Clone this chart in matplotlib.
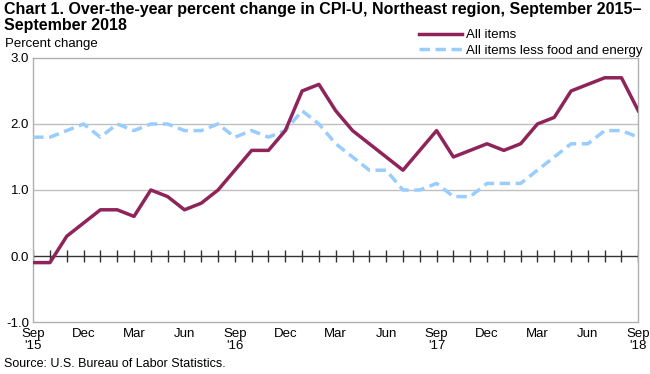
import matplotlib.pyplot as plt
import numpy as np

plt.rcParams['font.family'] = ['Liberation Sans', 'DejaVu Sans']

# monthly, Sep 2015 .. Sep 2018
all_items = [-0.1, -0.1, 0.3, 0.5, 0.7, 0.7, 0.6, 1.0, 0.9, 0.7, 0.8, 1.0,
             1.3, 1.6, 1.6, 1.9, 2.5, 2.6, 2.2, 1.9, 1.7, 1.5, 1.3, 1.6,
             1.9, 1.5, 1.6, 1.7, 1.6, 1.7, 2.0, 2.1, 2.5, 2.6, 2.7, 2.7, 2.2]
core = [1.8, 1.8, 1.9, 2.0, 1.8, 2.0, 1.9, 2.0, 2.0, 1.9, 1.9, 2.0,
        1.8, 1.9, 1.8, 1.9, 2.2, 2.0, 1.7, 1.5, 1.3, 1.3, 1.0, 1.0,
        1.1, 0.9, 0.9, 1.1, 1.1, 1.1, 1.3, 1.5, 1.7, 1.7, 1.9, 1.9, 1.8]
tick_labels = ["Sep\n'15", "Dec", "Mar", "Jun", "Sep\n'16", "Dec", "Mar", "Jun",
               "Sep\n'17", "Dec", "Mar", "Jun", "Sep\n'18"]
y_ticks = [-1.0, 0.0, 1.0, 2.0, 3.0]

x = np.arange(len(all_items))

fig = plt.figure(figsize=(6.5, 3.74), dpi=100)
ax = fig.add_axes([0.051, 0.139, 0.931, 0.706])

for y in [1.0, 2.0]:
    ax.axhline(y, color='#c0c0c0', lw=1, zorder=1)
ax.plot(x, np.zeros(len(x)), color='#333333', lw=1, marker='|', ms=8, mew=1, zorder=2)

line1, = ax.plot(x, all_items, color='#8e2459', lw=2.5, zorder=4, label='All items')
line2, = ax.plot(x, core, color='#99ccff', lw=2.5, ls=(0, (3, 1.6)), zorder=3,
                 label='All items less food and energy')

ax.set_xlim(0, len(x) - 1)
ax.set_ylim(-1, 3)
ax.set_yticks(y_ticks)
ax.set_yticklabels([f"{v:.1f}" for v in y_ticks], fontsize=9.5)
ax.set_xticks(x[::3])
ax.set_xticklabels(tick_labels, fontsize=9.5, linespacing=1.1)
ax.tick_params(length=0, pad=4)
ax.tick_params(axis='y', pad=3)
for s in ax.spines.values():
    s.set_color('#b0b0b0')
    s.set_linewidth(1)

fig.text(0.006, 0.995, "Chart 1. Over-the-year percent change in CPI-U, Northeast region, September 2015\u2013",
         fontsize=11.5, fontweight='bold', va='top', ha='left')
fig.text(0.006, 0.953, "September 2018",
         fontsize=11.5, fontweight='bold', va='top', ha='left')
fig.text(0.008, 0.882, "Percent change", fontsize=9.5, ha='left', va='center')
fig.text(0.006, 0.012, "Source: U.S. Bureau of Labor Statistics.", fontsize=9, ha='left', va='bottom')

fig.legend(handles=[line1, line2], loc='upper left', bbox_to_anchor=(0.635, 0.94),
           frameon=False, fontsize=9.5, handlelength=3.2, handletextpad=0.3,
           labelspacing=0.25, borderpad=0)

fig.savefig('out.png', dpi=100)
